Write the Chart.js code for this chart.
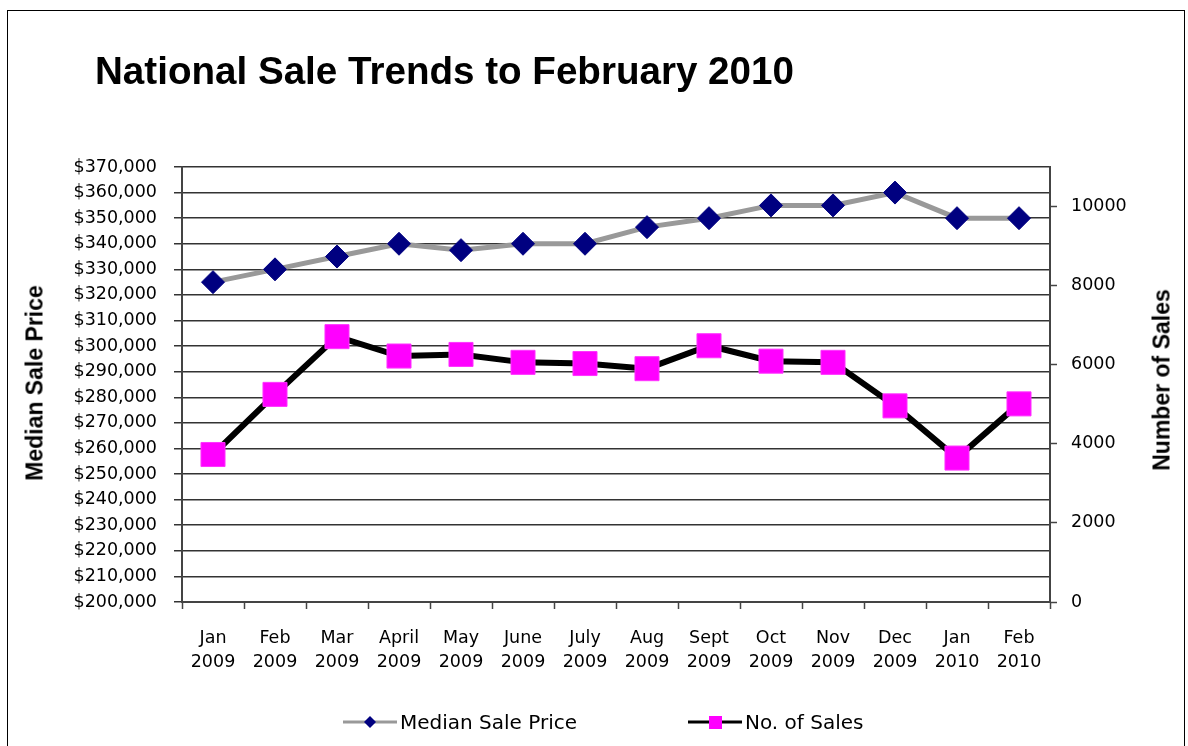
<!DOCTYPE html>
<html>
<head>
<meta charset="utf-8">
<title>National Sale Trends to February 2010</title>
<script src="https://cdn.jsdelivr.net/npm/chart.js@4.4.1/dist/chart.umd.min.js"></script>
<style>
  html, body { margin: 0; padding: 0; background: #fff; }
  #frame { position: relative; width: 1188px; height: 746px; overflow: hidden; }
  #border { position: absolute; left: 7px; top: 10px; width: 1178px; height: 760px; border: 1px solid #000; box-sizing: border-box; }
  #chart-box { position: absolute; left: 0; top: 0; width: 1188px; height: 746px; }
  #title { position: absolute; left: 95px; top: 52px; font: bold 38.6px "Liberation Sans", Arial, sans-serif; line-height: 38px; white-space: nowrap; color: #000; }
  .axis-title { position: absolute; font: bold 23px "Liberation Sans", Arial, sans-serif; white-space: nowrap; color: #000;
                transform: translate(-50%, -50%) rotate(-90deg); }
  .legend-item { position: absolute; top: 710px; height: 24px; display: flex; align-items: center;
                 font: 20px "DejaVu Sans", sans-serif; color: #000; white-space: nowrap; }
  .legend-item canvas { margin-right: 3px; }
</style>
</head>
<body>
<div id="frame">
  <div id="border"></div>
  <div id="chart-box"><canvas id="trend-chart"></canvas></div>
  <div id="title">National Sale Trends to February 2010</div>
  <div class="axis-title" style="left:35px; top:383px;">Median Sale Price</div>
  <div class="axis-title" style="left:1162px; top:380px;">Number of Sales</div>
  <div id="legend"></div>
</div>
<script>
// months along the bottom, two lines each
const months = ['Jan', 'Feb', 'Mar', 'April', 'May', 'June', 'July', 'Aug', 'Sept', 'Oct', 'Nov', 'Dec', 'Jan', 'Feb'];
const years = ['2009', '2009', '2009', '2009', '2009', '2009', '2009', '2009', '2009', '2009', '2009', '2009', '2010', '2010'];

const seriesNames = ['Median Sale Price', 'No. of Sales'];
const medianPrice = [325000, 330000, 335000, 340000, 337500, 340000, 340000, 346500, 350000, 355000, 355000, 360000, 350000, 350000];
const numSales = [3730, 5250, 6710, 6220, 6260, 6060, 6030, 5900, 6480, 6090, 6060, 4960, 3640, 5010];

// axis ranges and ticks
const priceAxis = [200000, 370000, 10000];
const salesAxis = [0, 11000];
const salesTicks = [0, 2000, 4000, 6000, 8000, 10000];

const tickFont = { family: '"DejaVu Sans", sans-serif', size: 17.5 };
const gridColor = '#333';
const axisColor = '#444';

const labels = months.map((m, i) => [m, years[i]]);

const ctx = document.getElementById('trend-chart').getContext('2d');

const chart = new Chart(ctx, {
    type: 'line',
    data: {
        labels: labels,
        datasets: [{
            label: seriesNames[0],
            data: medianPrice,
            yAxisID: 'y',
            borderColor: '#999999',
            borderWidth: 5,
            pointStyle: 'rectRot',
            pointRadius: 11.5,
            pointBackgroundColor: '#000080',
            pointBorderColor: '#000080',
            pointBorderWidth: 1,
            tension: 0
        }, {
            label: seriesNames[1],
            data: numSales,
            yAxisID: 'y1',
            borderColor: '#000000',
            borderWidth: 6,
            pointStyle: 'rect',
            pointRadius: 17,
            pointBackgroundColor: '#FF00FF',
            pointBorderColor: '#FF33FF',
            pointBorderWidth: 1,
            tension: 0
        }]
    },
    options: {
        responsive: true,
        maintainAspectRatio: false,
        animation: false,
        layout: {
            padding: { top: 167, left: 0, right: 0, bottom: 0 }
        },
        scales: {
            x: {
                offset: true,
                grid: {
                    offset: true,
                    drawOnChartArea: false,
                    tickLength: 7,
                    tickColor: axisColor,
                    tickWidth: 1.5
                },
                border: { color: axisColor, width: 2 },
                ticks: {
                    font: { family: tickFont.family, size: tickFont.size, lineHeight: 1.38 },
                    color: '#000',
                    padding: 17,
                    maxRotation: 0,
                    autoSkip: false
                },
                afterFit: (scale) => { scale.height = 144; }
            },
            y: {
                position: 'left',
                min: priceAxis[0],
                max: priceAxis[1],
                grid: {
                    color: gridColor,
                    lineWidth: 1.5,
                    tickLength: 8
                },
                border: { color: axisColor, width: 2 },
                ticks: {
                    stepSize: priceAxis[2],
                    font: tickFont,
                    color: '#000',
                    padding: 17,
                    callback: (v) => '$' + Number(v).toLocaleString('en-US')
                },
                afterFit: (scale) => { scale.width = 182; }
            },
            y1: {
                position: 'right',
                min: salesAxis[0],
                max: salesAxis[1],
                grid: {
                    drawOnChartArea: false,
                    tickLength: 7,
                    tickColor: axisColor,
                    tickWidth: 1.5
                },
                border: { color: axisColor, width: 2 },
                ticks: {
                    font: tickFont,
                    color: '#000',
                    padding: 14,
                    callback: (v) => String(v)
                },
                afterBuildTicks: (scale) => {
                    scale.ticks = salesTicks.map(v => ({ value: v }));
                },
                afterFit: (scale) => { scale.width = 138; }
            }
        },
        plugins: {
            legend: { display: false },
            title: { display: false },
            tooltip: { enabled: false }
        }
    }
});

// legend built from the datasets: line with its marker, then the name
function makeLegend() {
    const holder = document.getElementById('legend');
    const lefts = [343, 688];
    chart.data.datasets.forEach((ds, i) => {
        const item = document.createElement('div');
        item.className = 'legend-item';
        item.style.left = lefts[i] + 'px';

        const icon = document.createElement('canvas');
        icon.width = 54;
        icon.height = 20;
        const c = icon.getContext('2d');
        c.strokeStyle = ds.borderColor;
        c.lineWidth = 3;
        c.beginPath();
        c.moveTo(0, 10);
        c.lineTo(54, 10);
        c.stroke();
        c.fillStyle = ds.pointBackgroundColor;
        c.beginPath();
        if (ds.pointStyle === 'rectRot') {
            c.moveTo(27, 4); c.lineTo(33, 10); c.lineTo(27, 16); c.lineTo(21, 10);
        } else {
            c.rect(21, 4, 13, 13);
        }
        c.closePath();
        c.fill();

        const text = document.createElement('span');
        text.textContent = ds.label;

        item.appendChild(icon);
        item.appendChild(text);
        holder.appendChild(item);
    });
}

makeLegend();
</script>
</body>
</html>
